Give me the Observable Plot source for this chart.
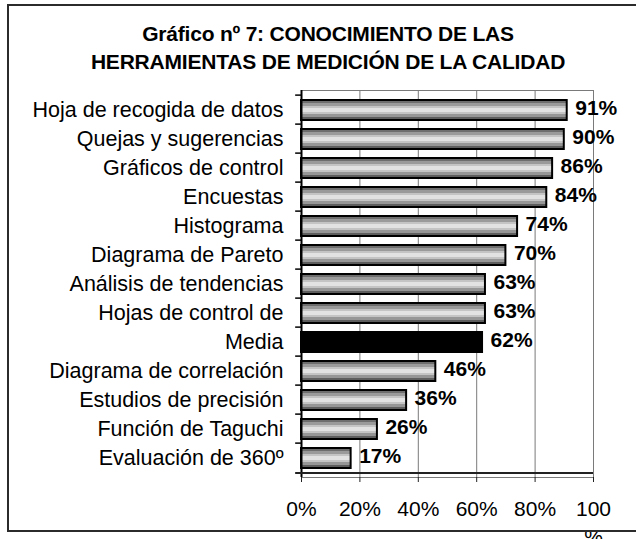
<!DOCTYPE html>
<html>
<head>
<meta charset="utf-8">
<script src="https://cdn.jsdelivr.net/npm/d3@7"></script>
<script src="https://cdn.jsdelivr.net/npm/@observablehq/plot@0.6"></script>
<style>
  html, body { margin: 0; padding: 0; background: #fff; }
  #wrap { position: relative; width: 636px; height: 539px; overflow: hidden; font-family: "Liberation Sans", Arial, sans-serif; }
  #frame { position: absolute; left: 7px; top: 4px; width: 660px; height: 528px; border: 2px solid #2b2b2b; box-sizing: border-box; pointer-events: none; }
  #title { position: relative; width: 656px; height: 80px; box-sizing: border-box; padding-top: 20px; text-align: center; font-weight: bold; font-size: 21px; line-height: 28px; color: #000; letter-spacing: -0.2px; }
  #chart svg { display: block; }
</style>
</head>
<body>
<div id="wrap">
  <div id="title">Gráfico nº 7: CONOCIMIENTO DE LAS<br>HERRAMIENTAS DE MEDICIÓN DE LA CALIDAD</div>
  <div id="chart"></div>
  <div id="frame"></div>
</div>
<script>
const categories = [
  "Hoja de recogida de datos",
  "Quejas y sugerencias",
  "Gráficos de control",
  "Encuestas",
  "Histograma",
  "Diagrama de Pareto",
  "Análisis de tendencias",
  "Hojas de control de",
  "Media",
  "Diagrama de correlación",
  "Estudios de precisión",
  "Función de Taguchi",
  "Evaluación de 360º"
];
const values = [91, 90, 86, 84, 74, 70, 63, 63, 62, 46, 36, 26, 17];
const highlight = "Media";
const xTicks = [0, 20, 40, 60, 80, 100];

const data = categories.map((c, i) => ({name: c, value: values[i], label: values[i] + "%"}));

const H = 459, mTop = 10, mBottom = 62;
const band = (H - mTop - mBottom) / categories.length;

const defs = () => {
  const d = d3.create("svg:defs");
  const lg = d.append("linearGradient").attr("id", "barGrad")
    .attr("x1", 0).attr("y1", 0).attr("x2", 0).attr("y2", 1);
  const stripes = [
    [0.00, 0.14, "#6e6e6e"],
    [0.14, 0.28, "#9a9a9a"],
    [0.28, 0.42, "#c4c4c4"],
    [0.42, 0.58, "#e2e2e2"],
    [0.58, 0.72, "#c4c4c4"],
    [0.72, 0.86, "#969696"],
    [0.86, 1.00, "#5e5e5e"]
  ];
  for (const [a, b, c] of stripes) {
    lg.append("stop").attr("offset", a).attr("stop-color", c);
    lg.append("stop").attr("offset", b).attr("stop-color", c);
  }
  return d.node();
};

const plot = Plot.plot({
  width: 636,
  height: H,
  marginTop: mTop,
  marginBottom: mBottom,
  marginLeft: 301,
  marginRight: 43,
  style: {fontFamily: "'Liberation Sans', Arial, sans-serif", fontSize: "21px", color: "#000", background: "transparent", overflow: "visible"},
  x: {domain: [0, 100], ticks: xTicks, label: null},
  y: {domain: categories, padding: 0, label: null},
  marks: [
    defs,
    Plot.gridX(xTicks.filter(t => t > 0), {stroke: "#7a7a7a", strokeOpacity: 1, strokeWidth: 1}),
    Plot.frame({stroke: "#7a7a7a", strokeWidth: 1}),
    Plot.barX(data.filter(d => d.name !== highlight), {
      x: "value", y: "name", fill: "url(#barGrad)", stroke: "#000", strokeWidth: 2,
      insetTop: 5, insetBottom: 4
    }),
    Plot.barX(data.filter(d => d.name === highlight), {
      x: "value", y: "name", fill: "#000", stroke: "#000", strokeWidth: 2,
      insetTop: 5, insetBottom: 4
    }),
    Plot.ruleX([0], {stroke: "#000", strokeWidth: 2}),
    Plot.ruleY(categories, {y: d => d, x1: -2, x2: 0, dy: -band / 2, stroke: "#000", strokeWidth: 1.5}),
    Plot.ruleY([categories[categories.length - 1]], {y: d => d, x1: -2, x2: 100, dy: band / 2, stroke: "#222", strokeWidth: 2}),
    Plot.axisX({
      ticks: xTicks, tickSize: 5, tickPadding: 13, stroke: "#222",
      tickFormat: d => d === 100 ? "100\n%" : d + "%",
      lineHeight: 1.35, fontSize: 21, label: null
    }),
    Plot.axisY({tickSize: 0, tickPadding: 18, fontSize: 21.5, label: null}),
    Plot.text(data, {
      x: "value", y: "name", text: "label", dx: 8, dy: -2, textAnchor: "start",
      fontWeight: "bold", fontSize: 21, fill: "#000"
    })
  ]
});
document.getElementById("chart").appendChild(plot);
</script>
</body>
</html>
